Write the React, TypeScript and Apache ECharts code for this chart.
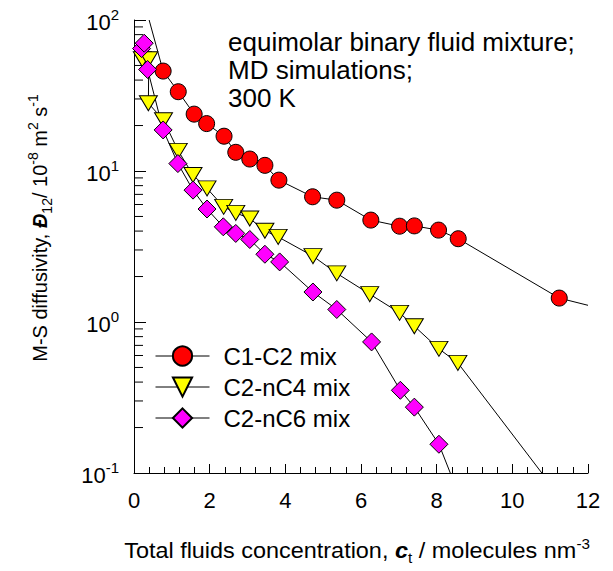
import React, { useEffect, useRef } from "react";
import * as echarts from "echarts";

// C1-C2 mix
const c1c2X = [0.77, 1.17, 1.59, 1.92, 2.38, 2.69, 3.06, 3.46, 3.83, 4.72, 5.36, 6.26, 7.02, 7.41, 8.05, 8.57, 11.24];
const c1c2Y = [45.9, 33.5, 23.8, 20.6, 17.0, 13.3, 12.0, 10.9, 8.7, 6.75, 6.41, 4.73, 4.31, 4.33, 4.06, 3.56, 1.44];
const c1c2LineStart = [0.4, 100];
const c1c2LineEnd = [12, 1.29];

// C2-nC4 mix
const c2nc4X = [0.22, 0.39, 0.38, 0.78, 1.17, 1.56, 1.93, 2.37, 2.69, 3.06, 3.46, 3.81, 4.73, 5.36, 6.23, 7.02, 7.41, 8.06, 8.56];
const c2nc4Y = [55, 55, 28.1, 21.7, 13.6, 9.4, 7.67, 5.79, 5.28, 4.85, 4.02, 3.66, 2.73, 2.1, 1.53, 1.15, 0.938, 0.664, 0.536];
const c2nc4LineEnd = [10.78, 0.1];

// C2-nC6 mix
const c2nc6X = [0.2, 0.27, 0.36, 0.77, 1.16, 1.56, 1.93, 2.36, 2.69, 3.06, 3.46, 3.85, 4.73, 5.36, 6.28, 7.04, 7.41, 8.06];
const c2nc6Y = [64.7, 70.2, 47, 18.7, 11.2, 7.47, 5.6, 4.27, 3.86, 3.52, 2.81, 2.5, 1.58, 1.21, 0.738, 0.353, 0.273, 0.155];
const c2nc6LineEnd = [8.36, 0.1];

const seriesNames = ["C1-C2 mix", "C2-nC4 mix", "C2-nC6 mix"];
const yMinorTicks = [0.2, 0.3, 0.4, 0.5, 0.6, 0.7, 0.8, 0.9, 2, 3, 4, 5, 6, 7, 8, 9, 20, 30, 40, 50, 60, 70, 80, 90];
const annotationLines = ["equimolar binary fluid mixture;", "MD simulations;", "300 K"];

const FONT = '"Liberation Sans", Arial, Helvetica, sans-serif';

const zip = (xs: number[], ys: number[]) => xs.map((x, i) => [x, ys[i]]);

export default function App() {
  const ref = useRef<HTMLDivElement>(null);
  useEffect(() => {
    if (!ref.current) return;
    document.body.style.margin = "0";
    const chart = echarts.init(ref.current, undefined, { renderer: "svg" });
    const markerLine = (name: string, xs: number[], ys: number[], symbol: string, size: any, color: string, rotate = 0) => ({
      name,
      type: "line",
      data: zip(xs, ys),
      symbol,
      symbolSize: size,
      symbolRotate: rotate,
      showAllSymbol: true,
      z: 5,
      lineStyle: { color: "#000", width: 1 },
      itemStyle: { color, borderColor: "#000", borderWidth: 1 },
      emphasis: { disabled: true },
    });
    const ext = (pts: number[][]) => ({
      type: "line",
      data: pts,
      symbol: "none",
      z: 3,
      lineStyle: { color: "#000", width: 1 },
      silent: true,
    });
    const option: any = {
      animation: false,
      grid: { left: 134, right: 25, top: 20, bottom: 98, containLabel: false },
      xAxis: {
        type: "value",
        min: 0,
        max: 12,
        interval: 2,
        axisLine: { lineStyle: { color: "#000", width: 1 } },
        axisTick: { inside: true, length: 9, lineStyle: { color: "#000" } },
        minorTick: { show: true, splitNumber: 5, length: 6, lineStyle: { color: "#000" } },
        splitLine: { show: false },
        axisLabel: { color: "#000", fontSize: 22, fontFamily: FONT, margin: 16 },
      },
      yAxis: {
        type: "log",
        logBase: 10,
        min: 0.1,
        max: 100,
        axisLine: { show: true, lineStyle: { color: "#000", width: 1 } },
        axisTick: { show: true, inside: true, length: 12, lineStyle: { color: "#000" } },
        splitLine: { show: false },
        axisLabel: {
          margin: 15,
          formatter: (v: number) => `{b|10}{s|${Math.round(Math.log10(v))}}`,
          rich: {
            b: { fontSize: 22, fontFamily: FONT, color: "#000", lineHeight: 26, verticalAlign: "bottom" },
            s: { fontSize: 15, fontFamily: FONT, color: "#000", lineHeight: 15, verticalAlign: "top" },
          },
        },
      },
      legend: {
        orient: "vertical",
        left: 155,
        top: 344,
        padding: 0,
        itemWidth: 54,
        itemHeight: 24,
        itemGap: 7,
        data: seriesNames,
        lineStyle: { color: "#000", width: 1, opacity: 1 },
        textStyle: { fontSize: 24, fontFamily: FONT, color: "#000", padding: [0, 0, 0, 9] },
        selectedMode: false,
      },
      graphic: [
        {
          type: "text",
          left: 228,
          top: 28,
          style: {
            text: annotationLines.join("\n"),
            font: `26px ${FONT}`,
            lineHeight: 28,
            fill: "#000",
          },
        },
        {
          type: "text",
          x: 357,
          y: 551,
          scaleX: 1.09,
          style: {
            text: "Total fluids concentration, {i|c}{sub|t} / molecules nm{sup|-3}",
            font: `21.5px ${FONT}`,
            fill: "#000",
            align: "center",
            verticalAlign: "middle",
            lineHeight: 28,
            rich: {
              i: { fontSize: 21.5, fontFamily: FONT, fontStyle: "italic", fontWeight: "bold", lineHeight: 28 },
              sub: { fontSize: 14, fontFamily: FONT, verticalAlign: "bottom", lineHeight: 16 },
              sup: { fontSize: 14, fontFamily: FONT, verticalAlign: "top", lineHeight: 14 },
            },
          },
        },
        {
          type: "text",
          x: 40,
          y: 228,
          rotation: Math.PI / 2,
          style: {
            text: "M-S diffusivity, {i|Đ}{sub|12}/ 10{sup|-8} m{sup|2} s{sup|-1}",
            font: `20px ${FONT}`,
            fill: "#000",
            align: "center",
            verticalAlign: "middle",
            lineHeight: 28,
            rich: {
              i: { fontSize: 20, fontFamily: FONT, fontStyle: "italic", fontWeight: "bold", lineHeight: 28 },
              sub: { fontSize: 14, fontFamily: FONT, verticalAlign: "bottom", lineHeight: 16 },
              sup: { fontSize: 14, fontFamily: FONT, verticalAlign: "top", lineHeight: 14 },
            },
          },
        },
      ],
      series: [
        {
          type: "custom",
          silent: true,
          clip: false,
          z: 1,
          data: yMinorTicks.map((v) => [0, v]),
          renderItem: (params: any, api: any) => {
            const p = api.coord([0, api.value(1)]);
            return {
              type: "line",
              shape: { x1: p[0], y1: p[1], x2: p[0] + 9, y2: p[1] },
              style: { stroke: "#000", lineWidth: 1 },
            };
          },
        },
        ext([c1c2LineStart, [c1c2X[0], c1c2Y[0]]]),
        ext([[c1c2X[c1c2X.length - 1], c1c2Y[c1c2Y.length - 1]], c1c2LineEnd]),
        ext([[c2nc4X[c2nc4X.length - 1], c2nc4Y[c2nc4Y.length - 1]], c2nc4LineEnd]),
        ext([[c2nc6X[c2nc6X.length - 1], c2nc6Y[c2nc6Y.length - 1]], c2nc6LineEnd]),
        markerLine(seriesNames[0], c1c2X, c1c2Y, "circle", 16, "#ff0000"),
        markerLine(seriesNames[1], c2nc4X, c2nc4Y, "triangle", [18, 15], "#ffff00", 180),
        markerLine(seriesNames[2], c2nc6X, c2nc6Y, "diamond", 18, "#ff00ff"),
      ],
    };
    chart.setOption(option);
    return () => chart.dispose();
  }, []);
  return <div ref={ref} style={{ width: 613, height: 571 }} />;
}
